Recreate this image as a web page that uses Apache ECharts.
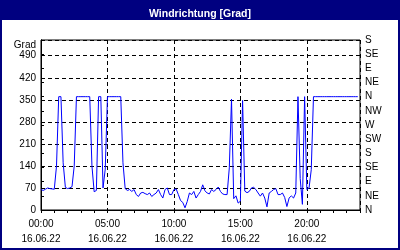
<!DOCTYPE html>
<html>
<head>
<meta charset="utf-8">
<script src="https://cdn.jsdelivr.net/npm/echarts@6/dist/echarts.min.js"></script>
<style>
html,body{margin:0;padding:0;background:#fff;}
#c{width:400px;height:250px;}
</style>
</head>
<body>
<div id="c"></div>
<script>
// 10-minute samples from 00:00 to 23:50 on 16.06.22
const stepMinutes = 10;
const windDir = [
  65, 62, 66, 70, 68, 67, 66, 140, 360, 360,
  150, 72, 68, 70, 74, 140, 360, 360, 360, 360,
  360, 360, 360, 140, 58, 62, 360, 360, 70, 130,
  360, 360, 360, 360, 360, 360, 360, 150, 68, 62,
  65, 59, 65, 49, 43, 54, 56, 52, 49, 54,
  43, 49, 54, 65, 49, 38, 65, 70, 49, 49,
  65, 67, 49, 30, 24, 7, 27, 54, 49, 59,
  38, 49, 59, 80, 61, 54, 51, 65, 59, 65,
  73, 59, 51, 49, 49, 134, 352, 36, 45, 22,
  28, 348, 60, 55, 59, 70, 72, 65, 54, 44,
  54, 38, 10, 54, 59, 65, 68, 49, 49, 54,
  40, 11, 38, 45, 38, 54, 360, 100, 18, 360,
  65, 70, 128, 360, 360, 360, 360, 360, 360, 360,
  360, 360, 360, 360, 360, 360, 360, 360, 360, 360,
  360, 360, 360, 360
];
const xTickLabels = ['00:00', '05:00', '10:00', '15:00', '20:00'];
const dateLabel = '16.06.22';
const yTickLabels = ['0', '70', '140', '210', '280', '350', '420', '490'];
const compassLabels = ['N', 'NE', 'E', 'SE', 'S', 'SW', 'W', 'NW', 'N', 'NE', 'E', 'SE', 'S'];
const titleText = 'Windrichtung [Grad]';
const unitText = 'Grad';

const font = 'Liberation Sans, Arial, sans-serif';
const chart = echarts.init(document.getElementById('c'), null, {renderer: 'canvas'});
const seriesData = windDir.map((v, i) => [i * stepMinutes, v]);

chart.setOption({
  animation: false,
  backgroundColor: '#ffffff',
  title: {
    text: titleText,
    left: 'center',
    top: 4,
    textStyle: {color: '#ffffff', fontWeight: 'bold', fontSize: 10.5, fontFamily: font}
  },
  graphic: [
    {type: 'rect', z: -1, shape: {x: 0, y: 0, width: 400, height: 20}, style: {fill: '#000080'}},
    {type: 'rect', z: 100, shape: {x: 1, y: 1, width: 398, height: 248}, style: {fill: null, stroke: '#000080', lineWidth: 2}},
    {type: 'text', x: 36, y: 45, style: {text: unitText, textAlign: 'right', textVerticalAlign: 'middle', fill: '#000', font: '10px ' + font}}
  ],
  grid: {left: 41, right: 40, top: 40, bottom: 40, show: true, borderColor: '#000', borderWidth: 1, backgroundColor: 'transparent'},
  xAxis: [
    {
      type: 'value', min: 0, max: 1440, interval: 300,
      axisLine: {show: true, lineStyle: {color: '#000', width: 1}},
      axisTick: {show: false},
      splitLine: {show: true, lineStyle: {color: '#000', type: [4, 3], width: 1}},
      axisLabel: {
        showMaxLabel: false, margin: 6, color: '#000', fontSize: 10, fontFamily: font, lineHeight: 15.5,
        formatter: v => { const k = Math.round(v / 300); return xTickLabels[k] !== undefined ? xTickLabels[k] + '\n' + dateLabel : ''; }
      }
    },
    {
      type: 'value', min: 0, max: 1440, interval: 60, position: 'bottom',
      axisLine: {show: false},
      axisTick: {show: true, length: 3, lineStyle: {color: '#000'}},
      splitLine: {show: false},
      axisLabel: {show: false}
    }
  ],
  yAxis: [
    {
      type: 'value', min: 0, max: 540, interval: 70, position: 'left',
      axisLine: {show: true, lineStyle: {color: '#000'}},
      axisTick: {show: false},
      splitLine: {show: true, lineStyle: {color: '#000', type: [4, 3], width: 1}},
      axisLabel: {
        showMaxLabel: false, margin: 5, color: '#000', fontSize: 10, fontFamily: font,
        formatter: v => { const k = Math.round(v / 70); return yTickLabels[k] !== undefined ? yTickLabels[k] : ''; }
      }
    },
    {
      type: 'value', min: 0, max: 540, interval: 45, position: 'right',
      axisLine: {show: true, lineStyle: {color: '#000'}},
      axisTick: {show: true, length: 3, lineStyle: {color: '#000'}},
      splitLine: {show: false},
      axisLabel: {
        margin: 5, color: '#000', fontSize: 10, fontFamily: font,
        formatter: v => compassLabels[Math.round(v / 45)] || ''
      }
    }
  ],
  series: [{
    type: 'line',
    xAxisIndex: 0,
    yAxisIndex: 0,
    data: seriesData,
    showSymbol: false,
    symbol: 'none',
    lineStyle: {color: '#0000ff', width: 1},
    itemStyle: {color: '#0000ff'}
  }]
});
</script>
</body>
</html>
